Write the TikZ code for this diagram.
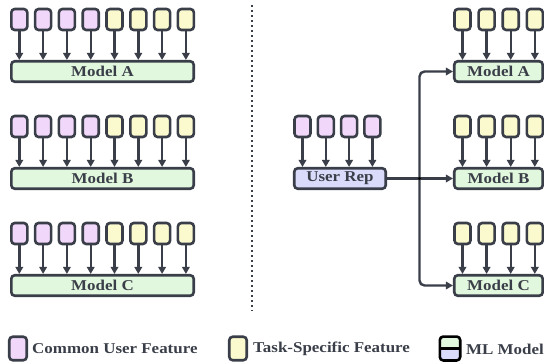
\documentclass[tikz,border=0pt]{standalone}
\usepackage{fontspec}
\newfontfamily\labfont[FakeStretch=1.13]{Liberation Serif}
\usetikzlibrary{arrows.meta,calc}
\definecolor{stroke}{RGB}{58,62,72}
\definecolor{pinkf}{RGB}{241,216,250}
\definecolor{yellf}{RGB}{251,250,206}
\definecolor{greenf}{RGB}{226,248,222}
\definecolor{bluef}{RGB}{218,218,250}
\tikzset{
  feat/.style={draw=stroke, line width=2.6pt, rounded corners=3.5pt, minimum width=16pt, minimum height=21pt, inner sep=0pt},
  cfeat/.style={feat, fill=pinkf},
  tfeat/.style={feat, fill=yellf},
  legbox/.style={minimum width=17.5pt, minimum height=23.5pt},
  modelbox/.style={draw=stroke, line width=2.6pt, rounded corners=3.5pt, minimum height=20.5pt, inner sep=0pt, fill=greenf, font=\labfont\bfseries\fontsize{15}{17}\selectfont, text=stroke},
  repbox/.style={modelbox, fill=bluef},
  arr/.style={draw=stroke, line width=2.4pt, -{Triangle[length=7pt,width=7.5pt]}},
  legtext/.style={anchor=west, inner sep=0pt, font=\labfont\bfseries\fontsize{15}{17}\selectfont, text=stroke},
  sep/.style={draw=stroke, line width=2pt, dash pattern=on 2pt off 3pt}
}
\begin{document}
\begin{tikzpicture}[x=1pt,y=-1pt]
\useasboundingbox (0,0) rectangle (544,364);
% ---------- left: three separate models ----------
\foreach \r/\lab/\yf/\ym in {A/Model A/19.5/71.5, B/Model B/126.5/178.5, C/Model C/233.5/285.5}{
  \node[modelbox, minimum width=182.4pt] (L\r) at (102.5,\ym) {\lab};
  \foreach \i in {0,...,7}{
    \pgfmathsetmacro{\xx}{19.3+23.8*\i}
    \ifnum\i<4
      \node[cfeat] (L\r f\i) at (\xx,\yf) {};
    \else
      \node[tfeat] (L\r f\i) at (\xx,\yf) {};
    \fi
    \draw[arr] (L\r f\i.south) -- (L\r f\i.south |- L\r.north);
  }
}
% ---------- separator ----------
\coordinate (stop) at (252,5);
\coordinate (sbot) at (252,311);
\draw[sep] (stop) -- (sbot);
% ---------- right: shared user representation ----------
\node[repbox, minimum width=91.5pt] (urep) at (340,178.5) {User Rep};
\foreach \i in {0,...,3}{
  \pgfmathsetmacro{\xx}{302.5+23.3*\i}
  \node[cfeat] (uf\i) at (\xx,126.5) {};
  \draw[arr] (uf\i.south) -- (uf\i.south |- urep.north);
}
\foreach \r/\lab/\yf/\ym in {A/Model A/19.5/71.5, B/Model B/126.5/178.5, C/Model C/233.5/285.5}{
  \node[modelbox, minimum width=88.5pt] (R\r) at (498.5,\ym) {\lab};
  \foreach \i in {0,...,3}{
    \pgfmathsetmacro{\xx}{462.5+24.1*\i}
    \node[tfeat] (R\r f\i) at (\xx,\yf) {};
    \draw[arr] (R\r f\i.south) -- (R\r f\i.south |- R\r.north);
  }
}
\coordinate (junc) at (419.5,178.5);
\draw[arr] (urep.east) -- (RB.west);
\draw[arr, rounded corners=5pt] (junc) |- (RA.west);
\draw[arr, rounded corners=5pt] (junc) |- (RC.west);
\fill[stroke] (junc) circle (1.6pt);
% ---------- legend ----------
\node[cfeat, legbox] (lg1) at (18,348.5) {};
\node[legtext] (lt1) at (32,349) {Common User Feature};
\node[tfeat, legbox] (lg2) at (238,348.5) {};
\node[legtext] (lt2) at (253,349) {Task-Specific Feature};
\node[inner sep=0pt, minimum width=20pt, minimum height=23.5pt] (lg3) at (450,348.5) {};
\begin{scope}
  \clip[rounded corners=3.5pt] (lg3.south west) rectangle (lg3.north east);
  \fill[greenf] (lg3.north west) rectangle (lg3.east);
  \fill[bluef] (lg3.west) rectangle (lg3.south east);
\end{scope}
\draw[stroke, line width=2.6pt, rounded corners=3.5pt] (lg3.south west) rectangle (lg3.north east);
\draw[stroke, line width=2.6pt] (lg3.west) -- (lg3.east);
\node[legtext] (lt3) at (466,349) {ML Model};
\end{tikzpicture}
\end{document}
